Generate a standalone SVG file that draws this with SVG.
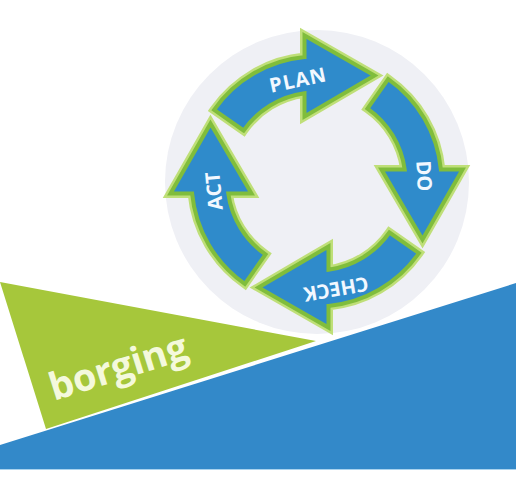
<svg xmlns="http://www.w3.org/2000/svg" xmlns:xlink="http://www.w3.org/1999/xlink" width="516" height="480" viewBox="0 0 516 480">
  <style>
    .halo { fill: none; stroke: #bfdf78; stroke-width: 9; stroke-linejoin: miter; }
    .arrow { fill: #2f8bcb; stroke: #80bd3c; stroke-width: 4; stroke-linejoin: miter; }
    .lbl { font-family: "Open Sans", "Liberation Sans", sans-serif; font-weight: bold; font-size: 20px; fill: #f2f8ff; text-anchor: middle; }
    .borg { font-family: "Open Sans", "Liberation Sans", sans-serif; font-weight: bold; font-size: 38px; fill: #f4f9dc; }
  </style>
  <defs>
    <path id="arr" d="M -72.9,-51 L -102.4,-71.7 A 125 125 0 0 1 -12,-124.4 L -12,-146 L 58,-106 L -12,-65 L -12,-88.2 A 89 89 0 0 0 -72.9,-51 Z"/>
  </defs>
  <rect width="516" height="480" fill="#ffffff"/>
  <g id="background">
    <polygon points="0,445 516,283 516,469 0,469" fill="#3389c9"/>
    <line x1="0" y1="469.5" x2="516" y2="469.5" stroke="#a9d3ee" stroke-width="1"/>
    <polygon points="0,282 316,341 46,429" fill="#a6c73b"/>
  </g>
  <g id="borging">
    <text class="borg" x="54" y="401" transform="rotate(-17.5 54 401)" textLength="143" lengthAdjust="spacing">borging</text>
  </g>
  <g id="cycle-circle">
    <circle cx="317" cy="182" r="152" fill="#eff0f5"/>
  </g>
  <g id="arrow-plan" transform="translate(316.5 181.5)">
    <use xlink:href="#arr" class="halo"/>
    <use xlink:href="#arr" class="arrow"/>
  </g>
  <g id="arrow-do" transform="translate(316.5 181.5) rotate(90)">
    <use xlink:href="#arr" class="halo"/>
    <use xlink:href="#arr" class="arrow"/>
  </g>
  <g id="arrow-check" transform="translate(316.5 181.5) rotate(180)">
    <use xlink:href="#arr" class="halo"/>
    <use xlink:href="#arr" class="arrow"/>
  </g>
  <g id="arrow-act" transform="translate(316.5 181.5) rotate(270)">
    <use xlink:href="#arr" class="halo"/>
    <use xlink:href="#arr" class="arrow"/>
  </g>
  <g id="labels">
    <text class="lbl" x="298" y="80" dy="0.35em" transform="rotate(-12 298 80)" letter-spacing="1">PLAN</text>
    <text class="lbl" x="424" y="176" dy="0.35em" transform="rotate(87 424 176)">DO</text>
    <text class="lbl" x="336" y="289" dy="0.35em" transform="rotate(170 336 289)">CHECK</text>
    <text class="lbl" x="214" y="191" dy="0.35em" transform="rotate(-95 214 191)">ACT</text>
  </g>
</svg>
